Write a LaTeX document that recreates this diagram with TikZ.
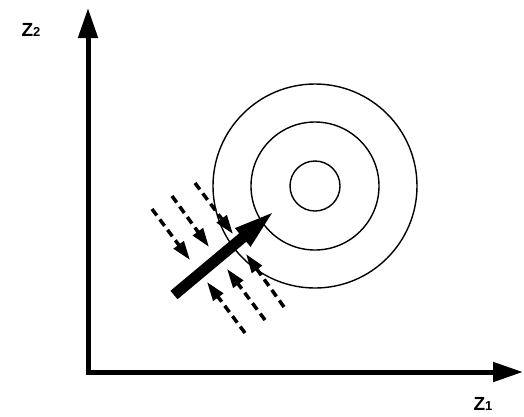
\documentclass[tikz,border=0pt]{standalone}
\usepackage{fontspec}
\setmainfont{Liberation Sans}
\usetikzlibrary{arrows.meta}
\newcommand{\axlab}[2]{\fontsize{19}{20}\selectfont\bfseries #1\fontsize{13}{14}\selectfont #2}
\begin{document}
\begin{tikzpicture}[x=1pt,y=-1pt,
  axis/.style={line width=5pt,-{Triangle[length=30pt,width=19pt]}},
  ring/.style={line width=1.4pt},
  wave/.style={line width=3.5pt,dash pattern=on 8pt off 5pt,-{Triangle[length=19pt,width=12pt]}},
  bigarrow/.style={line width=11pt,-{Triangle[length=46pt,width=20pt]}},
  lab/.style={inner sep=0pt}]
\useasboundingbox (0,0) rectangle (524,416);
\coordinate (O) at (88,372);
\coordinate (ytip) at (88,8);
\coordinate (xtip) at (523,372);
\draw[axis] (O) -- (ytip);
\draw[axis] ([xshift=-2.5pt]O) -- (xtip);
\node[lab] (z2) at (31,30) {\axlab{Z}{2}};
\node[lab] (z1) at (483,404) {\axlab{Z}{1}};
\coordinate (c) at (315,186);
\draw[ring] (c) circle[radius=25];
\draw[ring] (c) circle[radius=64];
\draw[ring] (c) circle[radius=102];
\coordinate (t) at (174,295);
\coordinate (h) at (278,208);
\draw[bigarrow] (t) -- (h);
\coordinate (a1) at (152,209); \coordinate (b1) at (190,260);
\coordinate (a2) at (172,196); \coordinate (b2) at (209,247);
\coordinate (a3) at (195,183); \coordinate (b3) at (233,234);
\coordinate (a4) at (245,333); \coordinate (b4) at (207,282);
\coordinate (a5) at (265,320); \coordinate (b5) at (227,269);
\coordinate (a6) at (284,307); \coordinate (b6) at (246,254);
\foreach \i in {1,...,6} {\draw[wave] (a\i) -- (b\i);}
\end{tikzpicture}
\end{document}
